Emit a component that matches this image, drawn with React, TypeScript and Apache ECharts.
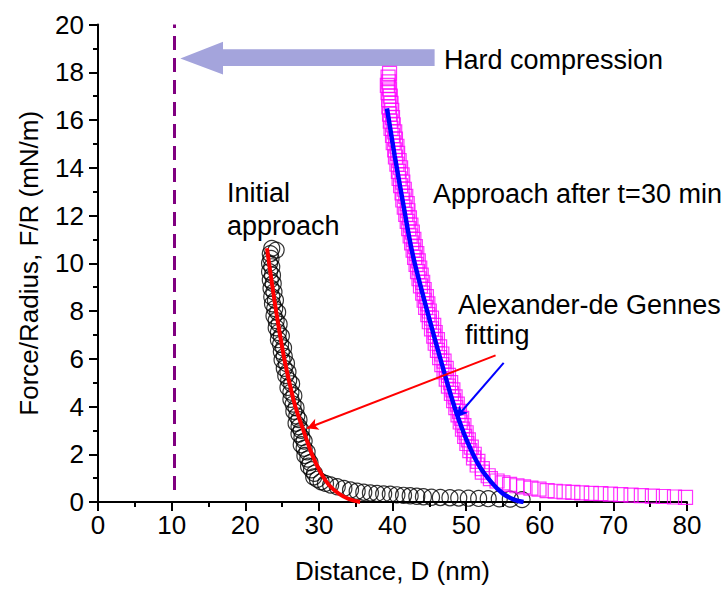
import React, { useEffect, useRef } from "react";
import * as echarts from "echarts";

// Initial approach (open circles)
const initialX = [23.6, 24.2, 23.4, 23.5, 23.3, 23.6, 23.3, 23.7, 23.4, 23.8, 23.5, 23.9, 23.6, 24.1, 23.7, 24.0, 24.4, 23.9, 24.2, 24.6, 24.2, 24.5, 24.9, 24.5, 24.8, 25.2, 24.9, 25.3, 25.0, 25.6, 25.3, 25.8, 25.5, 25.9, 26.3, 25.8, 26.2, 26.6, 26.2, 26.5, 26.9, 26.6, 27.0, 27.3, 26.9, 27.3, 27.6, 27.3, 27.7, 28.0, 27.6, 28.0, 28.4, 28.1, 28.5, 28.8, 28.6, 29.0, 29.4, 29.3, 29.8, 30.3, 30.9, 31.6, 32.5, 33.4, 34.3, 35.2, 36.1, 37.0, 37.9, 38.8, 39.7, 40.6, 41.5, 42.4, 43.3, 44.2, 45.3, 46.5, 47.8, 49.0, 50.3, 51.7, 53.0, 54.5, 56.0, 57.6];
const initialY = [10.62, 10.55, 10.4, 10.2, 10.0, 9.85, 9.65, 9.5, 9.3, 9.15, 8.95, 8.8, 8.6, 8.45, 8.3, 8.1, 7.95, 7.8, 7.6, 7.45, 7.3, 7.1, 6.95, 6.8, 6.6, 6.45, 6.3, 6.1, 5.95, 5.8, 5.6, 5.45, 5.3, 5.1, 4.95, 4.8, 4.6, 4.45, 4.3, 4.1, 3.95, 3.8, 3.6, 3.45, 3.3, 3.15, 3.0, 2.85, 2.7, 2.55, 2.4, 2.25, 2.1, 1.95, 1.8, 1.65, 1.5, 1.35, 1.2, 1.05, 0.95, 0.85, 0.78, 0.71, 0.64, 0.57, 0.5, 0.45, 0.41, 0.38, 0.36, 0.34, 0.33, 0.3, 0.28, 0.26, 0.24, 0.22, 0.2, 0.19, 0.18, 0.17, 0.16, 0.15, 0.14, 0.13, 0.12, 0.1];

// Approach after t=30 min (open squares)
const laterX = [39.6, 39.4, 39.5, 39.3, 39.6, 39.4, 39.7, 39.5, 39.8, 39.5, 39.9, 39.6, 40.0, 39.7, 40.1, 39.8, 40.3, 40.0, 40.4, 40.1, 40.6, 40.3, 40.7, 40.4, 40.9, 40.6, 41.1, 40.8, 41.3, 40.9, 41.4, 41.1, 41.6, 41.3, 41.8, 41.4, 42.0, 41.6, 42.1, 41.8, 42.3, 42.0, 42.5, 42.2, 42.7, 42.4, 42.9, 42.6, 43.1, 42.8, 43.3, 43.0, 43.5, 43.2, 43.7, 43.4, 43.9, 43.6, 44.1, 43.8, 44.3, 44.1, 44.6, 44.3, 44.8, 44.5, 45.0, 44.8, 45.3, 45.0, 45.6, 45.3, 45.8, 45.6, 46.1, 45.8, 46.4, 46.1, 46.7, 46.4, 47.0, 46.7, 47.3, 47.0, 47.6, 47.3, 47.9, 47.6, 48.2, 48.0, 48.5, 48.3, 48.8, 48.6, 49.1, 48.9, 49.4, 49.2, 49.7, 49.5, 50.0, 49.8, 50.3, 50.1, 50.7, 50.5, 51.1, 51.0, 51.6, 51.5, 52.2, 52.2, 53.0, 53.3, 54.2, 55.0, 55.9, 56.9, 57.8, 58.8, 59.9, 61.0, 62.1, 63.3, 64.5, 65.7, 67.0, 68.3, 69.6, 71.0, 72.4, 73.8, 75.3, 76.8, 78.3, 79.8];
const laterY = [17.95, 17.8, 17.6, 17.45, 17.3, 17.15, 17.0, 16.85, 16.7, 16.55, 16.4, 16.25, 16.1, 15.95, 15.8, 15.65, 15.5, 15.35, 15.2, 15.05, 14.9, 14.75, 14.6, 14.45, 14.3, 14.15, 14.0, 13.85, 13.7, 13.55, 13.4, 13.25, 13.1, 12.95, 12.8, 12.65, 12.5, 12.35, 12.2, 12.05, 11.9, 11.75, 11.6, 11.45, 11.3, 11.15, 11.0, 10.85, 10.7, 10.55, 10.4, 10.25, 10.1, 9.95, 9.8, 9.65, 9.5, 9.35, 9.2, 9.05, 8.9, 8.75, 8.6, 8.45, 8.3, 8.15, 8.0, 7.85, 7.7, 7.55, 7.4, 7.25, 7.1, 6.95, 6.8, 6.65, 6.5, 6.35, 6.2, 6.05, 5.9, 5.75, 5.6, 5.45, 5.3, 5.15, 5.0, 4.85, 4.7, 4.55, 4.4, 4.25, 4.1, 3.95, 3.8, 3.65, 3.5, 3.35, 3.2, 3.05, 2.9, 2.75, 2.6, 2.45, 2.3, 2.15, 2.0, 1.85, 1.7, 1.55, 1.4, 1.25, 1.1, 0.98, 0.88, 0.8, 0.74, 0.68, 0.63, 0.58, 0.54, 0.48, 0.45, 0.42, 0.4, 0.38, 0.36, 0.35, 0.33, 0.31, 0.29, 0.27, 0.25, 0.23, 0.21, 0.19];

// Alexander-de Gennes fits
const fitRedX = [22.95, 23.7, 24.45, 25.3, 26.0, 26.8, 27.9, 29.05, 30.3, 31.4, 32.7, 34.1, 35.6];
const fitRedY = [10.63, 9.0, 7.5, 6.0, 5.0, 4.0, 3.0, 2.0, 1.2, 0.7, 0.35, 0.12, 0.0];
const fitBlueX = [39.25, 40.3, 41.45, 42.65, 43.85, 45.15, 46.5, 47.9, 48.95, 50.2, 51.8, 53.5, 55.0, 56.5, 57.8];
const fitBlueY = [16.49, 14.5, 12.5, 10.5, 9.0, 7.5, 6.0, 4.5, 3.5, 2.5, 1.5, 0.8, 0.35, 0.1, 0.0];

// Annotations (data coordinates)
const hardWallX = 10.4;
const hardWallY = [0.5, 20];
const bigArrow = [[11.18, 18.58], [16.98, 19.28], [16.98, 18.96], [45.72, 18.96], [45.72, 18.26], [16.98, 18.26], [16.98, 17.91]];
const redArrow = [[54.0, 6.14], [28.4, 3.09]];
const blueArrow = [[55.1, 5.83], [48.7, 3.55]];

const xTicks = { min: 0, max: 80, interval: 10 };
const yTicks = { min: 0, max: 20, interval: 2 };

const FONT = "Liberation Sans, Arial, Helvetica, sans-serif";

const zip = (xs: number[], ys: number[]) => xs.map((x, i) => [x, ys[i]]);

export default function App() {
  const ref = useRef<HTMLDivElement>(null);
  useEffect(() => {
    if (!ref.current) return;
    const chart = echarts.init(ref.current, undefined, { renderer: "svg" });
    const axisCommon = {
      type: "value",
      nameLocation: "middle",
      nameTextStyle: { fontSize: 26, color: "#000", fontFamily: FONT },
      axisLine: { show: true, onZero: false, lineStyle: { color: "#000", width: 2 } },
      axisTick: { show: true, inside: false, length: 9, lineStyle: { color: "#000", width: 2 } },
      minorTick: { show: true, splitNumber: 2, length: 5, lineStyle: { color: "#000", width: 2 } },
      splitLine: { show: false },
      minorSplitLine: { show: false },
      axisLabel: { fontSize: 26, color: "#000", fontFamily: FONT },
    };
    chart.setOption({
      animation: false,
      textStyle: { fontFamily: FONT },
      grid: { left: 98, right: 40, top: 24.5, bottom: 88, containLabel: false },
      xAxis: {
        ...axisCommon,
        ...xTicks,
        name: "Distance, D (nm)",
        nameGap: 56,
        axisLabel: { ...axisCommon.axisLabel, margin: 10 },
      },
      yAxis: {
        ...axisCommon,
        ...yTicks,
        name: "Force/Radius, F/R (mN/m)",
        nameGap: 56,
        axisLabel: { ...axisCommon.axisLabel, margin: 14 },
      },
      series: [
        {
          type: "scatter",
          name: "Initial approach",
          data: zip(initialX, initialY),
          symbol: "circle",
          symbolSize: 16,
          itemStyle: { color: "rgba(0,0,0,0)", borderColor: "#000", borderWidth: 1.2 },
          markLine: {
            silent: true,
            symbol: "none",
            label: { show: false },
            lineStyle: { color: "#800080", width: 3, type: [14, 8] },
            data: [[{ coord: [hardWallX, hardWallY[0]] }, { coord: [hardWallX, hardWallY[1]] }]],
          },
        },
        {
          type: "scatter",
          name: "Approach after t=30 min",
          data: zip(laterX, laterY),
          symbol: "rect",
          symbolSize: 14,
          itemStyle: { color: "rgba(0,0,0,0)", borderColor: "#ff00ff", borderWidth: 1.2 },
        },
        {
          type: "line",
          name: "fit initial",
          data: zip(fitRedX, fitRedY),
          smooth: 0.4,
          showSymbol: false,
          lineStyle: { color: "#ff0000", width: 4 },
          markLine: {
            silent: true,
            symbol: ["none", "arrow"],
            symbolSize: [9, 11],
            label: { show: false },
            lineStyle: { color: "#ff0000", width: 2, type: "solid" },
            data: [[{ coord: redArrow[0] }, { coord: redArrow[1] }]],
          },
        },
        {
          type: "line",
          name: "fit later",
          data: zip(fitBlueX, fitBlueY),
          smooth: 0.4,
          showSymbol: false,
          lineStyle: { color: "#0000ff", width: 4.5 },
          markLine: {
            silent: true,
            symbol: ["none", "arrow"],
            symbolSize: [9, 11],
            label: { show: false },
            lineStyle: { color: "#0000ff", width: 2, type: "solid" },
            data: [[{ coord: blueArrow[0] }, { coord: blueArrow[1] }]],
          },
        },
        {
          type: "custom",
          name: "Hard compression arrow",
          clip: false,
          data: [[0, 0]],
          renderItem: (_params: any, api: any) => ({
            type: "polygon",
            shape: { points: bigArrow.map((p) => api.coord(p)) },
            style: { fill: "#a4a4dc" },
          }),
        },
      ],
      graphic: [
        { type: "text", left: 444, top: 46, style: { text: "Hard compression", fontSize: 27, fontFamily: FONT, fill: "#000" } },
        { type: "text", left: 227, top: 176, style: { text: "Initial\napproach", fontSize: 27, lineHeight: 33, fontFamily: FONT, fill: "#000" } },
        { type: "text", left: 433, top: 180, style: { text: "Approach after t=30 min", fontSize: 27, fontFamily: FONT, fill: "#000" } },
        { type: "text", left: 458, top: 291, style: { text: "Alexander-de Gennes", fontSize: 27, fontFamily: FONT, fill: "#000" } },
        { type: "text", left: 465, top: 321, style: { text: "fitting", fontSize: 27, fontFamily: FONT, fill: "#000" } },
      ],
    });
    return () => chart.dispose();
  }, []);
  return <div ref={ref} style={{ position: "fixed", left: 0, top: 0, width: 727, height: 590, background: "#fff" }} />;
}
